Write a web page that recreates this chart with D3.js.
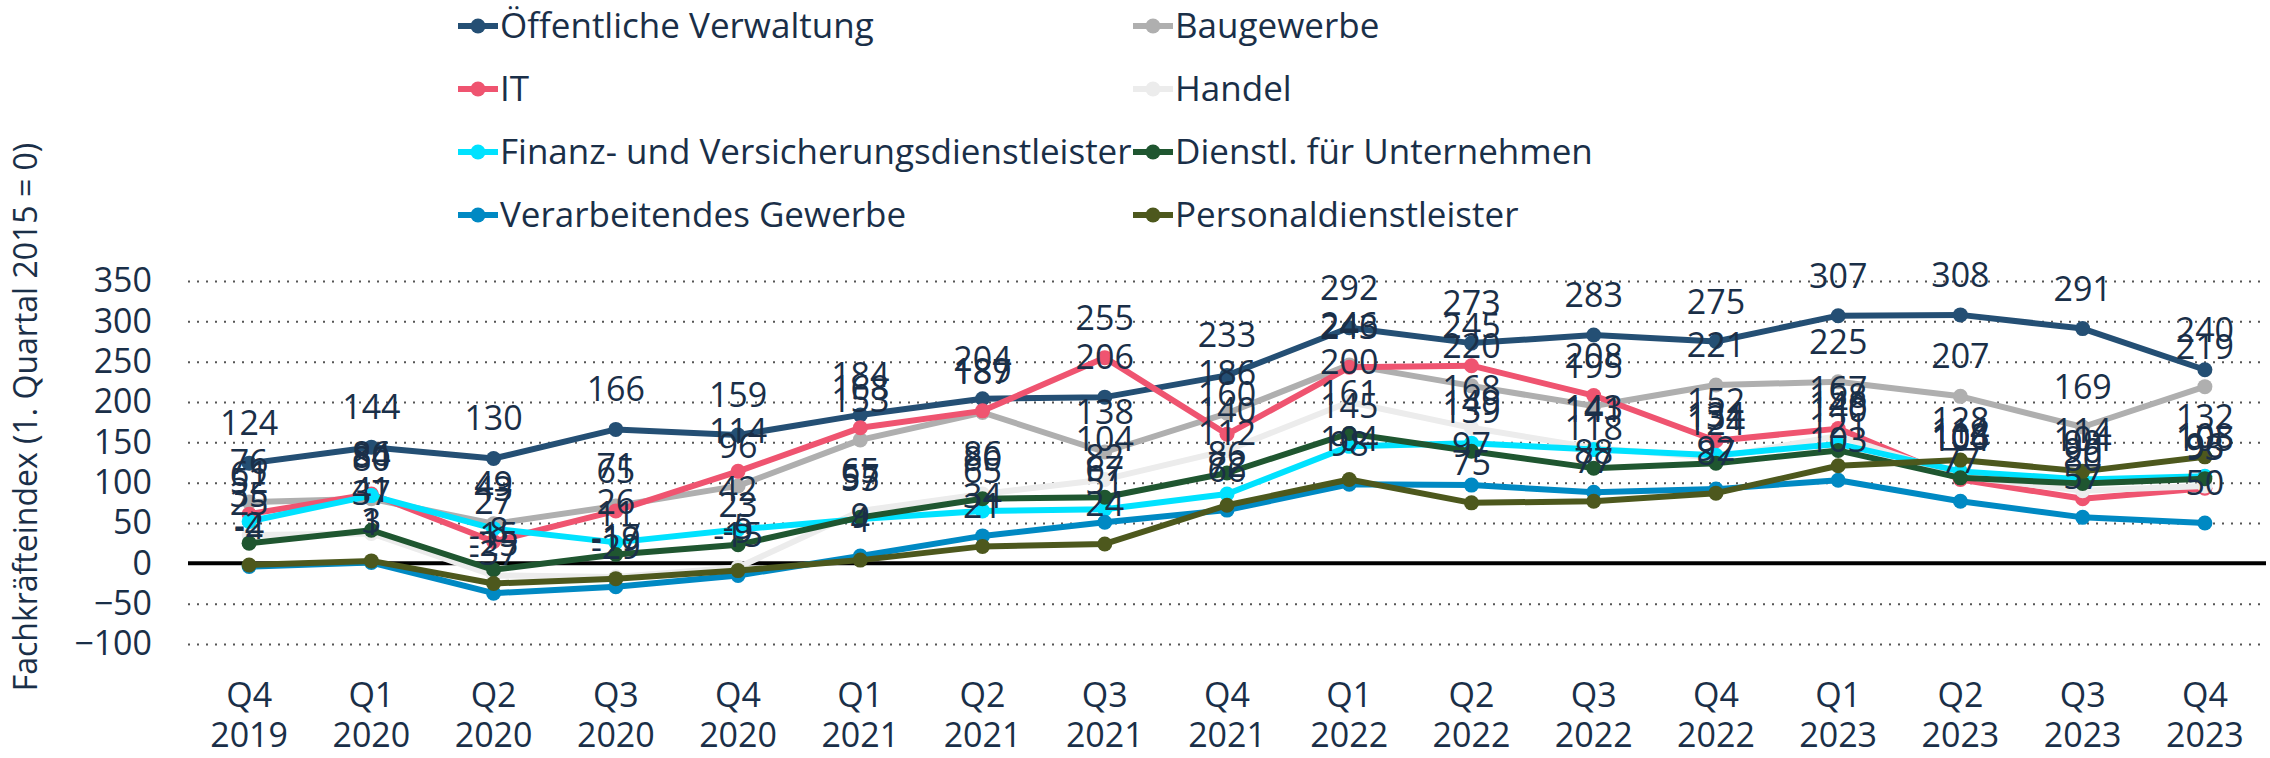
<!DOCTYPE html>
<html lang="de">
<head>
<meta charset="utf-8">
<title>Fachkräfteindex</title>
<script src="https://cdn.jsdelivr.net/npm/d3@7"></script>
<style>
  body { margin: 0; background: #fff; }
  svg { font-family: "Open Sans", sans-serif; }
</style>
</head>
<body>
<svg id="chart" width="2270" height="758"></svg>
<script>
// quarters shown on the x axis
var quarters = ["Q4", "Q1", "Q2", "Q3", "Q4", "Q1", "Q2", "Q3", "Q4", "Q1", "Q2", "Q3", "Q4", "Q1", "Q2", "Q3", "Q4"];
var years = ["2019", "2020", "2020", "2020", "2020", "2021", "2021", "2021", "2021", "2022", "2022", "2022", "2022", "2023", "2023", "2023", "2023"];
var yTicks = [-100, -50, 0, 50, 100, 150, 200, 250, 300, 350];

var names = ["Öffentliche Verwaltung", "Baugewerbe", "IT", "Handel",
             "Finanz- und Versicherungsdienstleister", "Dienstl. für Unternehmen",
             "Verarbeitendes Gewerbe", "Personaldienstleister"];
var colors = ["#244f74", "#afafaf", "#ef5470", "#ececec", "#00e2ff", "#1f5630", "#0089c3", "#4d581d"];

var oeffentlich = [124, 144, 130, 166, 159, 184, 204, 206, 233, 292, 273, 283, 275, 307, 308, 291, 240];
var bau         = [76, 80, 49, 71, 96, 153, 187, 138, 186, 246, 220, 195, 221, 225, 207, 169, 219];
var it          = [61, 86, 27, 65, 114, 168, 189, 255, 160, 243, 245, 208, 152, 167, 104, 80, 93];
var handel      = [35, 37, -15, -17, -5, 65, 86, 104, 140, 200, 168, 143, 131, 158, 108, 90, 96];
var finanz      = [52, 84, 43, 26, 42, 55, 65, 67, 86, 145, 149, 141, 134, 148, 114, 104, 108];
var dienstl     = [25, 41, -8, 11, 23, 57, 80, 82, 112, 161, 139, 118, 124, 140, 106, 99, 105];
var verarb      = [-4, 1, -37, -29, -15, 9, 34, 51, 66, 98, 97, 88, 92, 103, 77, 57, 50];
var personal    = [-2, 3, -25, -19, -9, 4, 21, 24, 72, 104, 75, 77, 87, 121, 128, 114, 132];

var series = [oeffentlich, bau, it, handel, finanz, dienstl, verarb, personal];

var textColor = "#1a2f48";
var plotL = 188, plotR = 2266, plotT = 281, plotB = 644;

var svg = d3.select("#chart");

var x = d3.scaleBand()
  .domain(d3.range(quarters.length))
  .range([plotL, plotR])
  .padding(0);
var y = d3.scaleLinear().domain([-100, 350]).range([plotB, plotT]);
var cx = function(i) { return x(i) + x.bandwidth() / 2; };

// grid + y labels
var yAxis = svg.append("g")
  .attr("transform", "translate(" + plotL + ",0)")
  .call(d3.axisLeft(y).tickValues(yTicks).tickSize(-(plotR - plotL)).tickPadding(36));
yAxis.select(".domain").remove();
yAxis.selectAll(".tick line")
  .attr("stroke", "#555")
  .attr("stroke-width", 2)
  .attr("stroke-dasharray", "2,7");
yAxis.selectAll(".tick text")
  .attr("fill", textColor)
  .attr("font-size", "34px")
  .attr("font-family", "Open Sans");

// zero line
svg.append("line")
  .attr("x1", plotL).attr("x2", plotR)
  .attr("y1", y(0)).attr("y2", y(0))
  .attr("stroke", "#000").attr("stroke-width", 4);

// x labels (two lines)
var xAxis = svg.append("g")
  .attr("transform", "translate(0," + plotB + ")")
  .call(d3.axisBottom(x).tickSize(0).tickFormat(""));
xAxis.select(".domain").remove();
xAxis.selectAll(".tick text").remove();
xAxis.selectAll(".tick").each(function(d) {
  var t = d3.select(this).append("text")
    .attr("fill", textColor)
    .attr("font-size", "34px")
    .attr("font-family", "Open Sans")
    .attr("text-anchor", "middle");
  t.append("tspan").attr("x", 0).attr("y", 63).text(quarters[d]);
  t.append("tspan").attr("x", 0).attr("y", 103).text(years[d]);
});

// y title
svg.append("text")
  .attr("transform", "translate(37,417) rotate(-90)")
  .attr("text-anchor", "middle")
  .attr("fill", textColor)
  .attr("font-size", "32px")
  .text("Fachkräfteindex (1. Quartal 2015 = 0)");

// lines and points
var line = d3.line()
  .x(function(d, i) { return cx(i); })
  .y(function(d) { return y(d); });

series.forEach(function(s, k) {
  svg.append("path")
    .datum(s)
    .attr("d", line)
    .attr("fill", "none")
    .attr("stroke", colors[k])
    .attr("stroke-width", 6)
    .attr("stroke-linejoin", "round");
  svg.selectAll(".pt" + k)
    .data(s)
    .enter()
    .append("circle")
    .attr("cx", function(d, i) { return cx(i); })
    .attr("cy", function(d) { return y(d); })
    .attr("r", 7.5)
    .attr("fill", colors[k]);
});

// data labels on top
series.forEach(function(s, k) {
  svg.selectAll(".lb" + k)
    .data(s)
    .enter()
    .append("text")
    .attr("x", function(d, i) { return cx(i); })
    .attr("y", function(d) { return y(d) - 28; })
    .attr("text-anchor", "middle")
    .attr("fill", textColor)
    .attr("font-size", "34px")
    .text(function(d) { return d; });
});

// legend
var legend = svg.append("g");
names.forEach(function(n, k) {
  var lx = k % 2 === 0 ? 458 : 1133;
  var ly = 26 + Math.floor(k / 2) * 63;
  var g = legend.append("g").attr("transform", "translate(" + lx + "," + ly + ")");
  g.append("line").attr("x1", 0).attr("x2", 40).attr("y1", 0).attr("y2", 0)
    .attr("stroke", colors[k]).attr("stroke-width", 6);
  g.append("circle").attr("cx", 20).attr("cy", 0).attr("r", 7.5).attr("fill", colors[k]);
  g.append("text").attr("x", 42).attr("y", 12)
    .attr("fill", textColor)
    .attr("font-size", "35px")
    .text(n);
});
</script>
</body>
</html>
